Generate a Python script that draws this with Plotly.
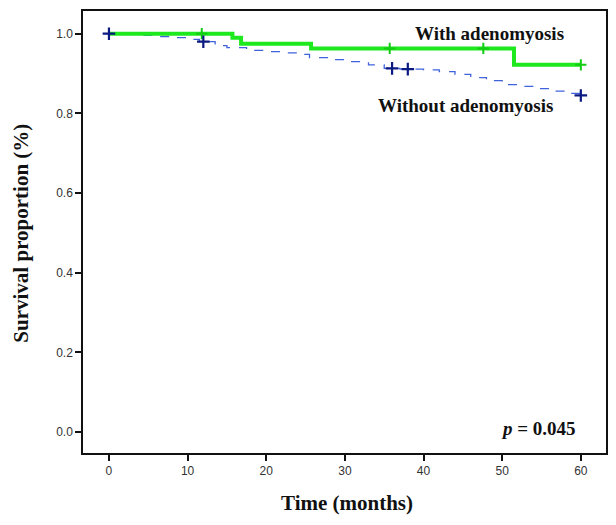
import plotly.graph_objects as go

# Data
time_with = [0, 15.7, 16.8, 25.7, 51.5, 60]
surv_with = [1.0, 0.99, 0.975, 0.963, 0.922, 0.922]
cens_with_t = [11.8, 35.7, 47.6, 60]
cens_with_s = [1.0, 0.963, 0.963, 0.922]

time_without = [0, 4, 6, 8, 10, 11.5, 13.5, 15, 17.5, 20, 22, 24, 25.5, 28, 30, 33, 35,
                37, 40, 42, 44, 46, 48, 50, 52, 54, 56, 58, 60]
surv_without = [1.0, 0.996, 0.993, 0.99, 0.986, 0.98, 0.97, 0.965, 0.958, 0.955, 0.952,
                0.948, 0.94, 0.935, 0.93, 0.922, 0.913, 0.911, 0.909, 0.905, 0.898, 0.89,
                0.882, 0.872, 0.868, 0.862, 0.856, 0.85, 0.845]
cens_without_t = [0, 12, 36, 38, 60]
cens_without_s = [1.0, 0.98, 0.913, 0.911, 0.845]

x_ticks = [0, 10, 20, 30, 40, 50, 60]
y_ticks = [0.0, 0.2, 0.4, 0.6, 0.8, 1.0]
y_tick_labels = ["0.0", "0.2", "0.4", "0.6", "0.8", "1.0"]

fig = go.Figure()
fig.add_trace(go.Scatter(x=time_without, y=surv_without, mode="lines",
                         line=dict(color="#3f62dd", width=1.3, dash="dash", shape="hv"),
                         showlegend=False, hoverinfo="skip"))
fig.add_trace(go.Scatter(x=time_with, y=surv_with, mode="lines",
                         line=dict(color="#1ee81e", width=4, shape="hv"),
                         showlegend=False, hoverinfo="skip"))
fig.add_trace(go.Scatter(x=cens_with_t, y=cens_with_s, mode="markers",
                         marker=dict(symbol="cross-thin", size=8, line=dict(color="#14cc14", width=2)),
                         showlegend=False))
fig.add_trace(go.Scatter(x=cens_without_t, y=cens_without_s, mode="markers",
                         marker=dict(symbol="cross-thin", size=9, line=dict(color="#0a1a80", width=2.2)),
                         showlegend=False))

serif_bold = dict(family="Liberation Serif, Times New Roman, serif", color="#111111")

fig.add_annotation(x=48.4, y=1.0, xref="x", yref="y", text="<b>With adenomyosis</b>",
                   showarrow=False, font=dict(size=19, **serif_bold), xanchor="center", yanchor="middle")
fig.add_annotation(x=45.3, y=0.82, xref="x", yref="y", text="<b>Without adenomyosis</b>",
                   showarrow=False, font=dict(size=19, **serif_bold), xanchor="center", yanchor="middle")
fig.add_annotation(x=59.7, y=0.01, xref="x", yref="y", text="<b><i>p</i> = 0.045</b>",
                   showarrow=False, font=dict(size=19, **serif_bold), xanchor="right", yanchor="middle")
fig.add_annotation(x=0.505, y=-0.113, xref="paper", yref="paper", text="<b>Time (months)</b>",
                   showarrow=False, font=dict(size=21, **serif_bold), xanchor="center", yanchor="middle")
fig.add_annotation(x=-0.119, y=0.498, xref="paper", yref="paper", text="<b>Survival proportion (%)</b>",
                   showarrow=False, textangle=-90, font=dict(size=21, **serif_bold),
                   xanchor="center", yanchor="middle", borderpad=0)

fig.update_xaxes(range=[-3.3, 63.2], tickvals=x_ticks, ticks="outside", ticklen=6,
                 tickwidth=1.5, tickcolor="#111", showgrid=False, zeroline=False,
                 showline=True, linecolor="#111", linewidth=1.5, mirror=True,
                 tickfont=dict(family="Liberation Sans, Arial", size=12, color="#333"))
fig.update_yaxes(range=[-0.0525, 1.057], tickvals=y_ticks, ticktext=y_tick_labels,
                 ticks="outside", ticklen=6, tickwidth=1.5, tickcolor="#111",
                 showgrid=False, zeroline=False, showline=True, linecolor="#111",
                 linewidth=1.5, mirror=True,
                 tickfont=dict(family="Liberation Sans, Arial", size=12, color="#333"))

# page body has an 8px default margin, so the figure is sized/offset to compensate
fig.update_layout(width=608, height=517, margin=dict(l=75, r=10, t=1, b=72),
                  plot_bgcolor="white", paper_bgcolor="white")

fig.write_html("out.html")
